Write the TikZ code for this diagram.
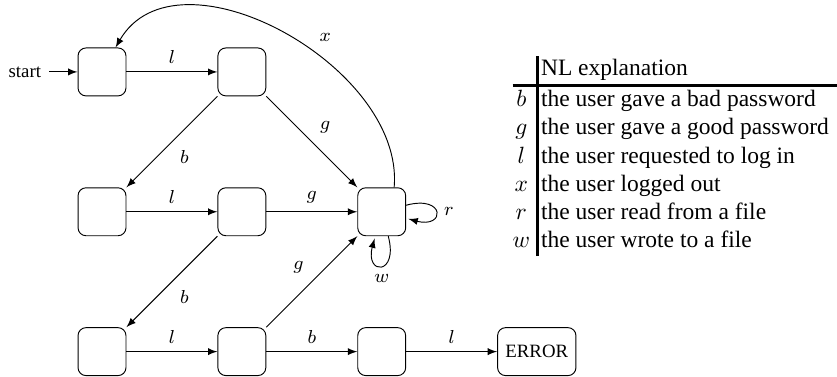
\documentclass[tikz,border=0pt]{standalone}
\usepackage{fontspec}
\setmainfont{Liberation Serif}
\usepackage{tikz}
\usetikzlibrary{automata, positioning}
\usepackage{amsmath}
\usepackage{amssymb}

\begin{document}
\begin{tikzpicture}[auto, >=latex, font=\footnotesize, node distance=38.7pt,
    every state/.style={rectangle, rounded corners=3.4pt, minimum size=20.4pt},
    initial text=start, initial distance=12pt]
    			\useasboundingbox (-43.4pt,-129.4pt) rectangle (312.7pt,30.6pt);
    			% estados
    			\node [state, initial] (q0) {};
    			\node [state] (q1) [right=of q0] {};
    			\node [state] (q2) [below=of q0] {};
    			\node [state] (q3) [right=of q2] {};
    			\node [state] (q4) [right=of q3] {};
    			\node [state] (q5) [below=of q2] {};
    			\node [state] (q6) [right=of q5] {};
    			\node [state] (q7) [right=of q6] {};
    			\node [state] (q8) [right=of q7] {ERROR};
    			
    			% transiciones
    			\path[->]
    			(q0) edge node {$l$} (q1)
    			(q1) edge node {$b$} (q2)
    			(q1) edge node {$g$} (q4)
    			(q2) edge node {$l$} (q3)
    			(q3) edge node {$g$} (q4)
    			(q3) edge node {$b$} (q5)
    			(q5) edge node {$l$} (q6)
    			(q6) edge node {$b$} (q7)
    			(q6) edge node {$g$} (q4)
    			(q7) edge node {$l$} (q8)
    			(q4) edge [loop right] node {$r$} ()
    			(q4) edge [loop below] node {$w$} ()
    			(q4.63) edge [out=85, in=60] node [swap, pos=0.42] {$x$} (q0.61)
;
    			
    			% tabla
    			\node [anchor=west, inner sep=0pt, font=\normalsize] (tab) at (174.5pt,-35.7pt) {%
    			\setlength{\arrayrulewidth}{1.3pt}%
    			\begin{tabular}{@{}c@{\hspace{3pt}}|@{\hspace{1pt}}l@{\hspace{3.4pt}}}
    			& NL explanation\\ \hline
    			$b$ & the user gave a bad password\\
    			$g$ & the user gave a good password\\
    			$l$ & the user requested to log in\\
    			$x$ & the user logged out\\
    			$r$ & the user read from a file\\
    			$w$ & the user wrote to a file
    			\end{tabular}};
    			\end{tikzpicture}
\end{document}
